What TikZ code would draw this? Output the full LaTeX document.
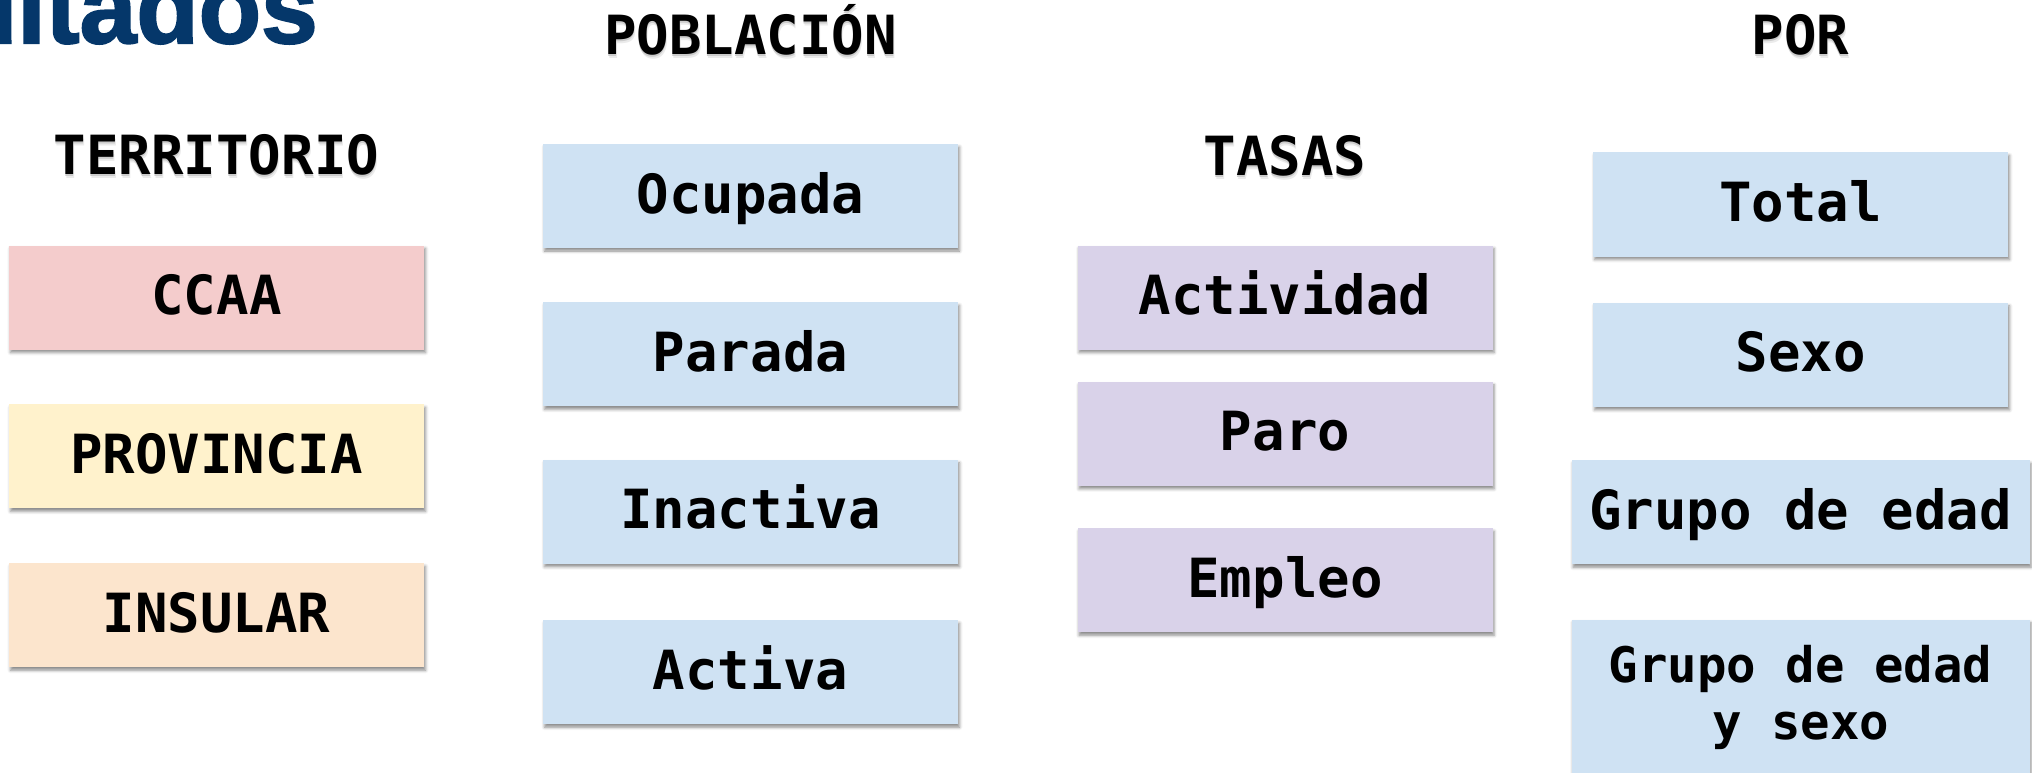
\documentclass[tikz,border=0pt]{standalone}
\usepackage{fontspec}
\setmonofont{DejaVu Sans Mono}
\newfontfamily\titlefont[FakeBold=2]{Liberation Sans Bold}
\usetikzlibrary{positioning,shadows.blur}

\definecolor{tblue}{HTML}{CFE2F3}
\definecolor{tpink}{HTML}{F4CCCC}
\definecolor{tyellow}{HTML}{FFF2CC}
\definecolor{torange}{HTML}{FCE5CD}
\definecolor{tpurple}{HTML}{D9D2E9}
\definecolor{ttitle}{HTML}{05376A}

\newcommand{\cardfont}{\ttfamily\bfseries\fontsize{54}{60}\selectfont}
\newcommand{\hdtxt}[1]{\rlap{\raisebox{-4pt}{\kern1pt\color{black!8}#1}}\rlap{\raisebox{-2pt}{\color{black!20}#1}}#1}

\tikzset{
	card/.style={rectangle, fill=#1, minimum width=415pt, minimum height=104pt, inner sep=0pt,
		font=\cardfont, text height=34pt, text depth=0pt,
		blur shadow={shadow xshift=1.5pt, shadow yshift=-3pt, shadow blur radius=3pt, shadow opacity=45}},
	header/.style={inner sep=0pt, font=\cardfont, text height=39pt, text depth=0pt}
}

\begin{document}
\begin{tikzpicture}[x=1pt, y=-1pt]
	\useasboundingbox (0,0) rectangle (2032,773);
	\clip (0,0) rectangle (2032,773);
	
	\node[anchor=base east, inner sep=0pt, text=ttitle, font=\titlefont\fontsize{102}{110}\selectfont] (titulo) at (318,43) {Resultados};
	
	% territorio
	\node[card=tpink] (ccaa) at (216.5,297.5) {CCAA};
	\node[card=tyellow, below=54.5pt of ccaa] (provincia) {PROVINCIA};
	\node[card=torange, below=54.5pt of provincia] (insular) {INSULAR};
	\node[header, above=71pt of ccaa] (territorio) {\hdtxt{TERRITORIO}};
	
	% poblacion
	\node[card=tblue] (ocupada) at (750.5,196) {Ocupada};
	\node[card=tblue, below=54pt of ocupada] (parada) {Parada};
	\node[card=tblue, below=53pt of parada] (inactiva) {Inactiva};
	\node[card=tblue, below=56pt of inactiva] (activa) {Activa};
	\node[header, above=89pt of ocupada] (poblacion) {\hdtxt{POBLACIÓN}};
	
	% tasas
	\node[card=tpurple] (actividad) at (1285,297.5) {Actividad};
	\node[card=tpurple, below=32pt of actividad] (paro) {Paro};
	\node[card=tpurple, below=42pt of paro] (empleo) {Empleo};
	\node[header, above=70pt of actividad] (tasas) {\hdtxt{TASAS}};
	
	% por
	\node[card=tblue] (total) at (1800.5,204.5) {Total};
	\node[card=tblue, below=46pt of total] (sexo) {Sexo};
	\node[card=tblue, minimum width=458pt, below=53pt of sexo] (gedad) {Grupo de edad};
	\node[card=tblue, minimum width=458pt, minimum height=0pt, inner ysep=26pt, text height=, text depth=, align=center,
		font=\ttfamily\bfseries\fontsize{49}{57}\selectfont, below=55pt of gedad] (gedadsexo) {Grupo de edad\\y sexo};
	\node[header, above=98pt of total] (por) {\hdtxt{POR}};
\end{tikzpicture}
\end{document}
